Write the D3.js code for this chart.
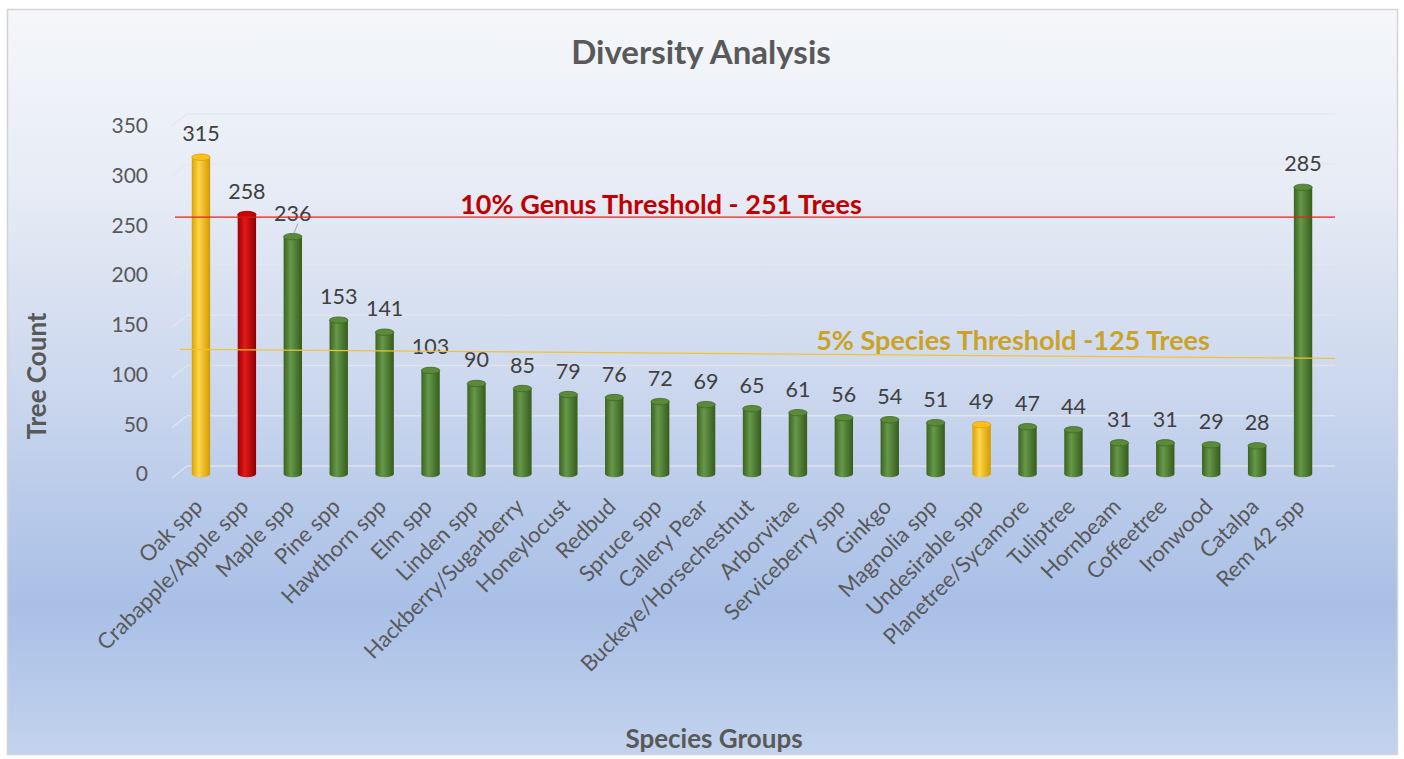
<!DOCTYPE html>
<html>
<head>
<meta charset="utf-8">
<script src="https://cdn.jsdelivr.net/npm/d3@7"></script>
<style>
  html, body { margin: 0; padding: 0; background: #ffffff; }
  svg { display: block; }
  text { font-family: Lato, "Open Sans", sans-serif; }
</style>
</head>
<body>
<svg id="chart" width="1404" height="759"></svg>
<script>
// ---- Data ----
const species = ["Oak spp", "Crabapple/Apple spp", "Maple spp", "Pine spp", "Hawthorn spp", "Elm spp",
  "Linden spp", "Hackberry/Sugarberry", "Honeylocust", "Redbud", "Spruce spp", "Callery Pear",
  "Buckeye/Horsechestnut", "Arborvitae", "Serviceberry spp", "Ginkgo", "Magnolia spp", "Undesirable spp",
  "Planetree/Sycamore", "Tuliptree", "Hornbeam", "Coffeetree", "Ironwood", "Catalpa", "Rem 42 spp"];
const treeCounts = [315, 258, 236, 153, 141, 103, 90, 85, 79, 76, 72, 69, 65, 61, 56, 54, 51, 49, 47, 44, 31, 31, 29, 28, 285];
const barClass = ["yellow", "red", "green", "green", "green", "green", "green", "green", "green", "green",
  "green", "green", "green", "green", "green", "green", "green", "yellow", "green", "green", "green",
  "green", "green", "green", "green"];
const yTicks = [0, 50, 100, 150, 200, 250, 300, 350];
const genusThreshold = 251;
const speciesThreshold = 125;
const genusLabel = "10% Genus Threshold - 251 Trees";
const speciesLabel = "5% Species Threshold -125 Trees";
const chartTitle = "Diversity Analysis";
const xTitle = "Species Groups";
const yTitle = "Tree Count";

// ---- Setup ----
const svg = d3.select("#chart");
const defs = svg.append("defs");

const bg = defs.append("linearGradient").attr("id", "bg").attr("x1", 0).attr("y1", 0).attr("x2", 0).attr("y2", 1);
[[0, "#f5f7fa"], [0.25, "#e6ebf5"], [0.5, "#ccd8ee"], [0.8, "#a9bfe6"], [1, "#c3d3ee"]].forEach(([o, c]) =>
  bg.append("stop").attr("offset", o).attr("stop-color", c));

const palettes = {
  green: { l: "#3b6420", m: "#66984a", r: "#355c1c", top: "#5b8a3a", topStroke: "#3e6a24" },
  yellow: { l: "#d9a200", m: "#ffd54a", r: "#d09a00", top: "#ffc21a", topStroke: "#d8a000" },
  red: { l: "#9c0000", m: "#e21a1a", r: "#8e0000", top: "#cc0000", topStroke: "#900000" }
};
Object.entries(palettes).forEach(([k, p]) => {
  const g = defs.append("linearGradient").attr("id", "cyl-" + k).attr("x1", 0).attr("y1", 0).attr("x2", 1).attr("y2", 0);
  g.append("stop").attr("offset", 0).attr("stop-color", p.l);
  g.append("stop").attr("offset", 0.38).attr("stop-color", p.m);
  g.append("stop").attr("offset", 1).attr("stop-color", p.r);
});

// background & border
svg.append("rect").attr("x", 7.5).attr("y", 9.5).attr("width", 1390).attr("height", 745)
  .attr("fill", "url(#bg)").attr("stroke", "#d4d4d4").attr("stroke-width", 1.5);

// scales
const y = d3.scaleLinear().domain([0, 350]).range([474, 122]);
const yLabel = d3.scaleLinear().domain([0, 350]).range([476, 128]);
const x = d3.scaleBand().domain(species).range([178, 1326]).paddingInner(0.6).paddingOuter(0.3);
const cx = d => x(d) + x.bandwidth() / 2;

// gridlines on back wall
const grid = svg.append("g");
yTicks.forEach(t => {
  const yy = y(t) - 8;
  grid.append("path")
    .attr("d", `M172,${yy + 12} L187,${yy} L1335,${yy}`)
    .attr("fill", "none").attr("stroke", "#e4e6ea").attr("stroke-opacity", 0.85).attr("stroke-width", 1.5);
});

// y axis tick labels
svg.append("g").selectAll("text").data(yTicks).join("text")
  .attr("x", 148).attr("y", d => yLabel(d))
  .attr("text-anchor", "end").attr("dominant-baseline", "middle")
  .attr("font-size", 21).attr("fill", "#595959")
  .text(d => d);

// bars (cylinders)
const bars = svg.append("g");
const ry = 3.2;
species.forEach((s, i) => {
  const v = treeCounts[i];
  const p = palettes[barClass[i]];
  const w = x.bandwidth();
  const x0 = x(s);
  const yt = y(v), yb = y(0);
  const g = bars.append("g");
  g.append("ellipse").attr("cx", cx(s)).attr("cy", yb).attr("rx", w / 2).attr("ry", ry)
    .attr("fill", "url(#cyl-" + barClass[i] + ")");
  g.append("rect").attr("x", x0).attr("y", yt).attr("width", w).attr("height", yb - yt)
    .attr("fill", "url(#cyl-" + barClass[i] + ")");
  g.append("ellipse").attr("cx", cx(s)).attr("cy", yt).attr("rx", w / 2).attr("ry", ry)
    .attr("fill", p.top).attr("stroke", p.topStroke).attr("stroke-width", 0.8);
});

// data labels
svg.append("g").selectAll("text").data(species).join("text")
  .attr("x", d => cx(d)).attr("y", (d, i) => y(treeCounts[i]) - 16)
  .attr("text-anchor", "middle").attr("font-size", 21.5).attr("fill", "#404040")
  .text((d, i) => treeCounts[i]);

// maple leader line
svg.append("line")
  .attr("x1", cx("Maple spp") + 5).attr("y1", y(236) - 13)
  .attr("x2", cx("Maple spp") + 1).attr("y2", y(236) - 3)
  .attr("stroke", "#a6a6a6").attr("stroke-width", 1);

// x labels
svg.append("g").selectAll("text").data(species).join("text")
  .attr("transform", d => `translate(${cx(d) + 3},${508}) rotate(-45)`)
  .attr("text-anchor", "end").attr("font-size", 22).attr("fill", "#595959")
  .text(d => d);

// threshold lines
svg.append("line").attr("x1", 175).attr("x2", 1335).attr("y1", y(genusThreshold) - 4.5).attr("y2", y(genusThreshold) - 4.5)
  .attr("stroke", "#e02020").attr("stroke-width", 1.3);
svg.append("text").attr("x", 661).attr("y", 214).attr("text-anchor", "middle")
  .attr("font-size", 27).attr("font-weight", "bold").attr("fill", "#c00000").text(genusLabel);

svg.append("line").attr("x1", 180).attr("x2", 1335).attr("y1", y(speciesThreshold) + 1).attr("y2", y(speciesThreshold) + 10)
  .attr("stroke", "#f2c230").attr("stroke-width", 1.3);
svg.append("text").attr("x", 1013).attr("y", 350).attr("text-anchor", "middle")
  .attr("font-size", 27).attr("font-weight", "bold").attr("fill", "#c9a227").text(speciesLabel);

// titles
svg.append("text").attr("x", 701).attr("y", 64).attr("text-anchor", "middle")
  .attr("font-size", 33).attr("font-weight", "bold").attr("fill", "#595959").text(chartTitle);
svg.append("text").attr("x", 714).attr("y", 748).attr("text-anchor", "middle")
  .attr("font-size", 26).attr("font-weight", "bold").attr("fill", "#595959").text(xTitle);
svg.append("text").attr("transform", "translate(46,376) rotate(-90)").attr("text-anchor", "middle")
  .attr("font-size", 26).attr("font-weight", "bold").attr("fill", "#595959").text(yTitle);
</script>
</body>
</html>
